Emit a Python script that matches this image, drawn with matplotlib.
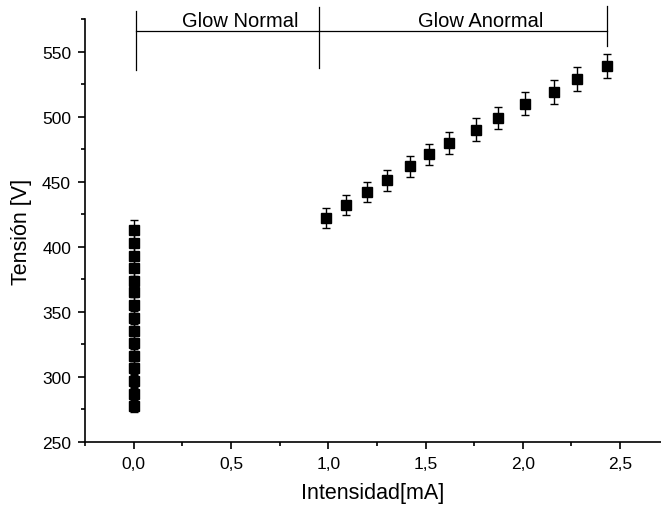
import matplotlib
matplotlib.use('Agg')
import matplotlib.pyplot as plt
from matplotlib.ticker import MultipleLocator, FuncFormatter

plt.rcParams['font.family'] = ['Liberation Sans', 'DejaVu Sans']

## datos: glow normal (I ~ 0)
i_normal = [0.0] * 15
v_normal = [413, 403, 393, 384, 374, 365, 355, 345, 335, 326, 316, 307, 297, 287, 278]
e_normal = [7.2, 7.0, 6.9, 6.7, 6.5, 6.4, 6.2, 6.0, 5.9, 5.7, 5.5, 5.4, 5.2, 5.0, 4.9]

## glow anormal
i_anormal = [0.99, 1.09, 1.20, 1.30, 1.42, 1.52, 1.62, 1.76, 1.87, 2.01, 2.16, 2.28, 2.43]
v_anormal = [422, 432, 442, 451, 462, 471, 480, 490, 499, 510, 519, 529, 539]
e_anormal = [7.6, 7.6, 7.7, 7.9, 8.1, 8.2, 8.4, 8.6, 8.7, 8.9, 9.1, 9.1, 9.4]

xs = i_normal + i_anormal
ys = v_normal + v_anormal
yerr = e_normal + e_anormal

fig = plt.figure(figsize=(6.61, 5.10), dpi=100)
ax = fig.add_axes([85 / 661, 1 - 443 / 510, 1 - 85 / 661, (443 - 20) / 510])

ax.errorbar(xs, ys, yerr=yerr, fmt='s', color='black', markersize=6.8,
            ecolor='black', elinewidth=1, capsize=3, capthick=1)

ax.set_xlim(-0.25, 2.71)
ax.set_ylim(250, 575)

ax.spines['top'].set_visible(False)
ax.spines['right'].set_visible(False)
ax.spines['left'].set_linewidth(1.2)
ax.spines['bottom'].set_linewidth(1.2)

ax.xaxis.set_major_locator(MultipleLocator(0.5))
ax.xaxis.set_minor_locator(MultipleLocator(0.25))
ax.yaxis.set_major_locator(MultipleLocator(50))
ax.yaxis.set_minor_locator(MultipleLocator(25))
ax.xaxis.set_major_formatter(FuncFormatter(lambda v, p: ('%.1f' % v).replace('.', ',')))
ax.tick_params(which='major', direction='out', length=5, width=1.2, labelsize=12.5, pad=5)
ax.tick_params(which='minor', direction='out', length=2.8, width=1.2)

ax.set_xlabel('Intensidad[mA]', fontsize=15.5, labelpad=8)
ax.set_ylabel('Tensión [V]', fontsize=15.5, labelpad=7)

## corchetes de regiones
br_kw = dict(color='black', linewidth=0.9, clip_on=False)
ax.plot([0.014, 2.435], [566, 566], **br_kw)
ax.plot([0.014, 0.014], [535.5, 581.5], **br_kw)
ax.plot([0.953, 0.953], [537.5, 584], **br_kw)
ax.plot([2.435, 2.435], [554, 585], **br_kw)
ax.text(0.549, 570, 'Glow Normal', ha='center', va='baseline', fontsize=14.5)
ax.text(1.781, 570, 'Glow Anormal', ha='center', va='baseline', fontsize=14.5)

fig.savefig('out.png', dpi=100)
